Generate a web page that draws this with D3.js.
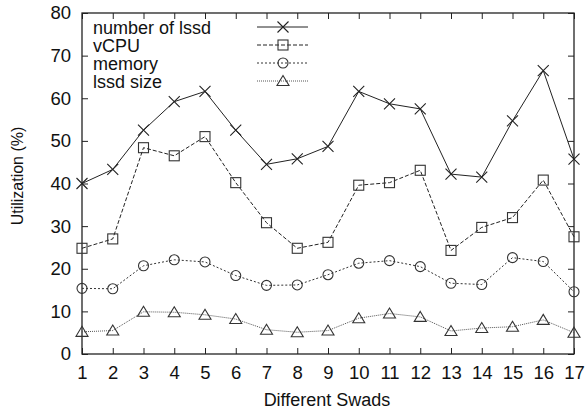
<!DOCTYPE html>
<html>
<head>
<meta charset="utf-8">
<script src="https://cdn.jsdelivr.net/npm/d3@7"></script>
<style>
  body { margin: 0; background: #fff; }
  text { font-family: "Liberation Sans", Arial, sans-serif; fill: #111; }
</style>
</head>
<body>
<div id="chart"></div>
<script>
const swads = d3.range(1, 18);
const numLssd = [40, 43.3, 52.5, 59.2, 61.6, 52.5, 44.5, 45.8, 48.7, 61.6, 58.7, 57.5, 42.2, 41.5, 54.7, 66.5, 45.7];
const vcpu    = [24.8, 27, 48.4, 46.5, 51, 40.2, 30.8, 24.8, 26.2, 39.6, 40.2, 43.1, 24.3, 29.7, 32, 40.8, 27.5];
const memory  = [15.4, 15.3, 20.7, 22.1, 21.6, 18.4, 16.1, 16.2, 18.6, 21.3, 21.9, 20.5, 16.6, 16.3, 22.6, 21.7, 14.6];
const lssdSize = [5.2, 5.5, 9.9, 9.8, 9.2, 8.2, 5.7, 5.1, 5.5, 8.4, 9.5, 8.7, 5.4, 6.1, 6.4, 8, 5];
const yTicks = [0, 10, 20, 30, 40, 50, 60, 70, 80];

const series = [
  { name: "number of lssd", values: numLssd, dash: null, stroke: "#222", marker: "x" },
  { name: "vCPU", values: vcpu, dash: "4,2", stroke: "#222", marker: "square" },
  { name: "memory", values: memory, dash: "2,2", stroke: "#333", marker: "circle" },
  { name: "lssd size", values: lssdSize, dash: "1,1", stroke: "#555", marker: "triangle" }
];

const width = 586, height = 415;
const margin = { top: 13, right: 12, bottom: 61, left: 82 };
const w = width - margin.left - margin.right;
const h = height - margin.top - margin.bottom;

const svg = d3.select("#chart").append("svg")
  .attr("width", width).attr("height", height);

const g = svg.append("g").attr("transform", `translate(${margin.left},${margin.top})`);

const x = d3.scaleLinear().domain([1, 17]).range([0, w]);
const y = d3.scaleLinear().domain([0, 80]).range([h, 0]);

// ticks inward on all four sides
const tickLen = 6;
g.append("g")
  .attr("transform", `translate(0,${h})`)
  .call(d3.axisBottom(x).tickValues(swads).tickSizeInner(-tickLen).tickSizeOuter(0).tickPadding(12))
  .call(a => a.select(".domain").remove());
g.append("g")
  .call(d3.axisTop(x).tickValues(swads).tickSizeInner(-tickLen).tickSizeOuter(0).tickFormat(""))
  .call(a => a.select(".domain").remove());
g.append("g")
  .call(d3.axisLeft(y).tickValues(yTicks).tickSizeInner(-tickLen).tickSizeOuter(0).tickPadding(11))
  .call(a => a.select(".domain").remove());
g.append("g")
  .attr("transform", `translate(${w},0)`)
  .call(d3.axisRight(y).tickValues(yTicks).tickSizeInner(-tickLen).tickSizeOuter(0).tickFormat(""))
  .call(a => a.select(".domain").remove());

g.selectAll(".tick text").style("font-size", "18.5px").style("font-family", "Liberation Sans, Arial, sans-serif");
g.selectAll(".tick line").attr("stroke", "#222");

g.append("rect")
  .attr("width", w).attr("height", h)
  .attr("fill", "none").attr("stroke", "#222").attr("stroke-width", 1.3);

function drawMarker(sel, type) {
  const s = 5.5;
  if (type === "x") {
    sel.append("path").attr("d", `M${-s},${-s}L${s},${s}M${-s},${s}L${s},${-s}`)
      .attr("stroke", "#222").attr("stroke-width", 1.1).attr("fill", "none");
  } else if (type === "square") {
    sel.append("rect").attr("x", -5).attr("y", -5).attr("width", 10).attr("height", 10)
      .attr("stroke", "#333").attr("stroke-width", 1.1).attr("fill", "none");
  } else if (type === "circle") {
    sel.append("circle").attr("r", 5)
      .attr("stroke", "#333").attr("stroke-width", 1.1).attr("fill", "none");
  } else if (type === "triangle") {
    sel.append("path").attr("d", "M0,-5.5L6,4.5L-6,4.5Z")
      .attr("stroke", "#333").attr("stroke-width", 1.1).attr("fill", "none");
  }
}

const line = d3.line().x((d, i) => x(swads[i])).y(d => y(d));

series.forEach(s => {
  g.append("path")
    .datum(s.values)
    .attr("d", line)
    .attr("fill", "none")
    .attr("stroke", s.stroke)
    .attr("stroke-width", 1)
    .attr("stroke-dasharray", s.dash);

  g.selectAll(null)
    .data(s.values)
    .join("g")
    .attr("transform", (d, i) => `translate(${x(swads[i])},${y(d)})`)
    .each(function () { drawMarker(d3.select(this), s.marker); });
});

// legend
const legend = g.append("g").attr("transform", "translate(11,14)");
series.forEach((s, i) => {
  const row = legend.append("g").attr("transform", `translate(0,${i * 18})`);
  row.append("text").attr("x", 0).attr("y", 6.5).style("font-size", "18px").text(s.name);
  row.append("line").attr("x1", 164).attr("x2", 215).attr("y1", 0).attr("y2", 0)
    .attr("stroke", s.stroke).attr("stroke-dasharray", s.dash);
  const m = row.append("g").attr("transform", "translate(190,0)");
  drawMarker(m, s.marker);
});

svg.append("text")
  .attr("transform", `translate(23,176) rotate(-90)`)
  .attr("text-anchor", "middle")
  .style("font-size", "16px")
  .text("Utilization (%)");

svg.append("text")
  .attr("x", 327)
  .attr("y", 406)
  .attr("text-anchor", "middle")
  .style("font-size", "18px")
  .text("Different Swads");
</script>
</body>
</html>
